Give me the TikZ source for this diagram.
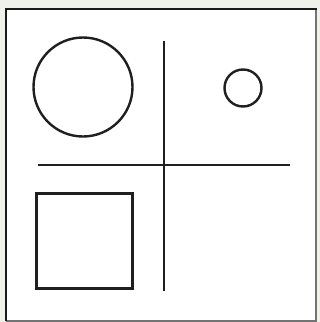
\documentclass[tikz,border=0pt]{standalone}
\begin{document}
\begin{tikzpicture}[x=1pt,y=-1pt,
  shape line/.style={line width=2.4pt, draw=black!88}]
\definecolor{bgcol}{RGB}{241,241,236}
\fill[bgcol] (0,0) rectangle (320,322);
\useasboundingbox (0,0) rectangle (320,322);
\fill[white] (6,9) rectangle (316,321);
\draw[line width=1.2pt, draw=black!55] (316,9) -- (316,321) -- (6,321);
\draw[line width=2.4pt, draw=black!90] (6,321) -- (6,9) -- (316.5,9);
% shapes
\node[circle, shape line, minimum size=99pt, inner sep=0pt] (bigc) at (83,87) {};
\node[circle, shape line, minimum size=37pt, inner sep=0pt] (smallc) at (243,88) {};
\node[rectangle, shape line, minimum width=96pt, minimum height=95pt, inner sep=0pt] (sq) at (84.5,241) {};
\coordinate (vt) at (164,41);
\coordinate (vb) at (164,291);
\coordinate (hl) at (38,165);
\coordinate (hr) at (290,165);
\draw[shape line] (vt) -- (vb);
\draw[shape line] (hl) -- (hr);
\end{tikzpicture}
\end{document}
